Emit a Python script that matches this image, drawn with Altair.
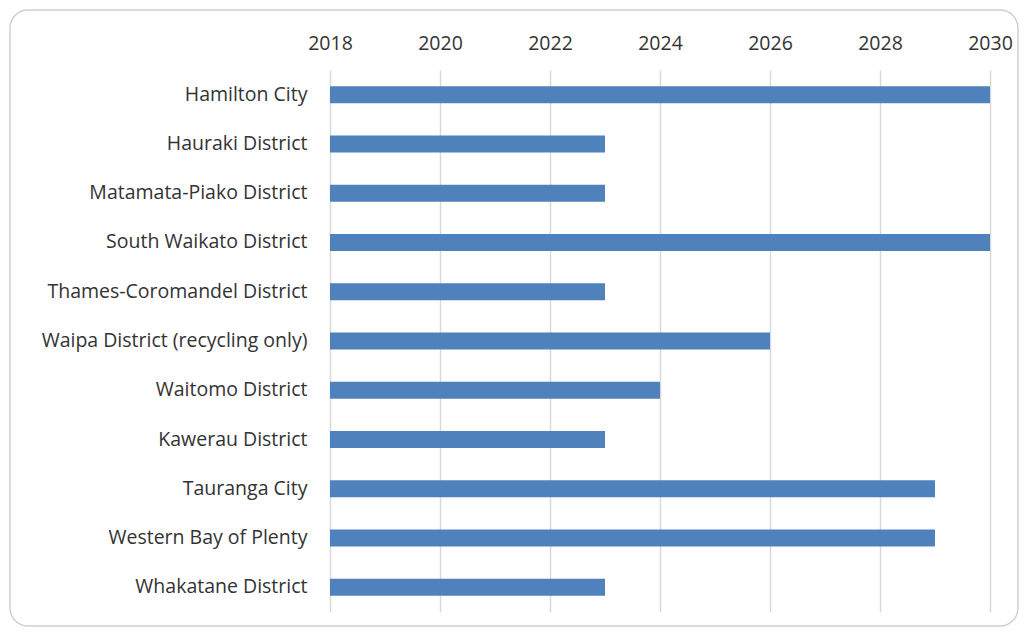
import altair as alt
import pandas as pd

councils = [
    "Hamilton City",
    "Hauraki District",
    "Matamata-Piako District",
    "South Waikato District",
    "Thames-Coromandel District",
    "Waipa District (recycling only)",
    "Waitomo District",
    "Kawerau District",
    "Tauranga City",
    "Western Bay of Plenty",
    "Whakatane District",
]
end_year = [2030, 2023, 2023, 2030, 2023, 2026, 2024, 2023, 2029, 2029, 2023]
start_year = [2018] * len(councils)
year_ticks = [2018, 2020, 2022, 2024, 2026, 2028, 2030]

df = pd.DataFrame({"council": councils, "start": start_year, "end": end_year})

FONT = "Open Sans"
TXT = "#333333"

border = alt.Chart(pd.DataFrame({"a": [0]})).mark_rect(
    fill="white", fillOpacity=0, stroke="#d0d0d0", strokeWidth=1.5, cornerRadius=18
).encode(
    x=alt.value(-320), x2=alt.value(688),
    y=alt.value(-60), y2=alt.value(556),
)

bars = alt.Chart(df).mark_bar(color="#4F81BD", size=17).encode(
    y=alt.Y("council:N", sort=councils, title=None,
            axis=alt.Axis(domain=False, ticks=False, labelFontSize=19.5,
                          labelFont=FONT, labelColor=TXT, labelPadding=23,
                          labelLimit=400, grid=False)),
    x=alt.X("start:Q", title=None,
            scale=alt.Scale(domain=[2018, 2030], zero=False, nice=False),
            axis=alt.Axis(orient="top", values=year_ticks, format="d",
                          domain=False, ticks=False, labelFontSize=19.5,
                          labelFont=FONT, labelColor=TXT, labelPadding=17,
                          labelFlush=False,
                          grid=True, gridColor="#d9d9d9", gridWidth=1.5)),
    x2="end:Q",
)

chart = alt.layer(border, bars).properties(
    width=660, height=542,
    background="white",
    autosize=alt.AutoSizeParams(type="none"),
    padding={"left": 322, "top": 62, "right": 30, "bottom": 16},
).configure_view(
    strokeWidth=0, stroke="transparent"
)

chart.save("out.html", embed_options={"renderer": "svg", "actions": False})
